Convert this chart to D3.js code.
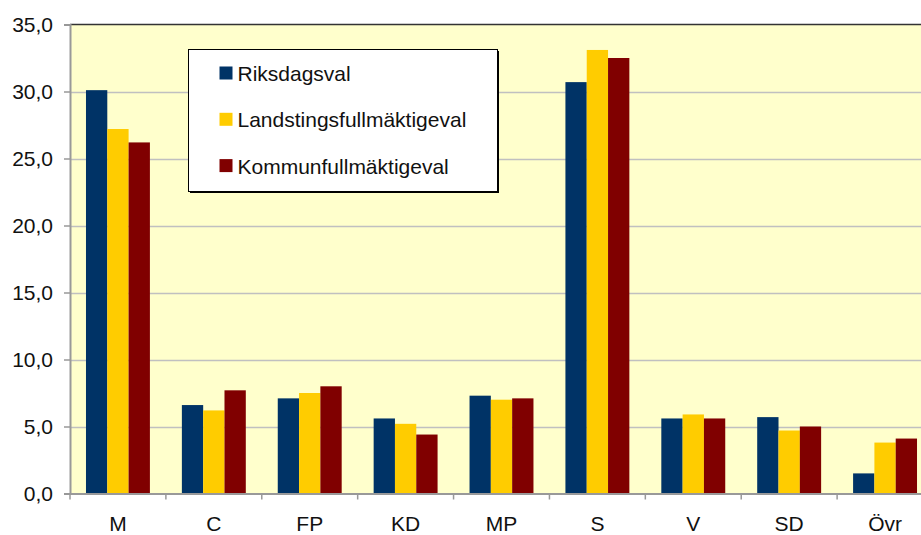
<!DOCTYPE html>
<html lang="sv">
<head>
  <meta charset="UTF-8">
  <title>Valresultat per parti</title>
  <script src="https://d3js.org/d3.v7.min.js"></script>
  <style>
    body {
      margin: 0;
      background: #fff;
      font-family: "Liberation Sans", Arial, sans-serif;
    }
    svg text {
      fill: #111;
    }
  </style>
</head>
<body>
  <svg width="921" height="535"></svg>

  <script>
    // chart values
    const parties = ["M", "C", "FP", "KD", "MP", "S", "V", "SD", "Övr"];
    const seriesNames = ["Riksdagsval", "Landstingsfullmäktigeval", "Kommunfullmäktigeval"];
    const riksdag = [30.1, 6.6, 7.1, 5.6, 7.3, 30.7, 5.6, 5.7, 1.5];
    const landsting = [27.2, 6.2, 7.5, 5.2, 7.0, 33.1, 5.9, 4.7, 3.8];
    const kommun = [26.2, 7.7, 8.0, 4.4, 7.1, 32.5, 5.6, 5.0, 4.1];
    const yTicks = [0, 5, 10, 15, 20, 25, 30, 35];
    const colors = ["#003366", "#ffcc00", "#800000"];

    const values = [riksdag, landsting, kommun];
    const table = parties.map((p, i) => ({
      party: p,
      vals: seriesNames.map((s, j) => ({ series: s, idx: j, value: values[j][i] }))
    }));

    const svg = d3.select("svg");
    const fmt = v => d3.format(".1f")(v).replace(".", ",");
    const fontSize = 21;

    const plot = { left: 70, right: 933, top: 24.5, bottom: 493.5 };

    const x = d3.scaleBand()
      .domain(parties)
      .range([plot.left, plot.right])
      .paddingInner(0)
      .paddingOuter(0);

    const bw = x.bandwidth();
    const xInner = d3.scaleBand()
      .domain(d3.range(seriesNames.length))
      .range([bw / 6, bw * 5 / 6]);

    const y = d3.scaleLinear()
      .domain([0, 35])
      .range([plot.bottom, plot.top]);

    // plot background
    svg.append("rect")
      .attr("x", plot.left)
      .attr("y", plot.top)
      .attr("width", plot.right - plot.left)
      .attr("height", plot.bottom - plot.top)
      .attr("fill", "#ffffcc");

    // gridlines
    svg.append("g")
      .selectAll("line")
      .data(yTicks.filter(t => t > 0 && t < 35))
      .join("line")
      .attr("x1", plot.left)
      .attr("x2", plot.right)
      .attr("y1", d => Math.round(y(d)) + 0.5)
      .attr("y2", d => Math.round(y(d)) + 0.5)
      .attr("stroke", "#c0c0c0")
      .attr("stroke-width", 1.5);

    // top border
    svg.append("line")
      .attr("x1", plot.left)
      .attr("x2", plot.right)
      .attr("y1", plot.top)
      .attr("y2", plot.top)
      .attr("stroke", "#333")
      .attr("stroke-width", 1.5);

    // bars
    const groups = svg.append("g")
      .selectAll("g")
      .data(table)
      .join("g")
      .attr("transform", d => `translate(${x(d.party)},0)`);

    groups.selectAll("rect")
      .data(d => d.vals)
      .join("rect")
      .attr("x", d => xInner(d.idx))
      .attr("width", xInner.bandwidth())
      .attr("y", d => y(d.value))
      .attr("height", d => y(0) - y(d.value))
      .attr("fill", d => colors[d.idx]);

    // y axis
    const yAxis = d3.axisLeft(y)
      .tickValues(yTicks)
      .tickFormat(fmt)
      .tickSize(6)
      .tickPadding(11);

    const gy = svg.append("g")
      .attr("transform", `translate(${plot.left},0)`)
      .call(yAxis);
    gy.select(".domain").attr("stroke", "#999").attr("stroke-width", 2);
    gy.selectAll(".tick line").attr("stroke", "#999").attr("stroke-width", 1.5);
    gy.selectAll(".tick text")
      .attr("font-size", fontSize)
      .attr("font-family", "Liberation Sans, Arial, sans-serif")
      .attr("fill", "#222");

    // x axis
    const xAxis = d3.axisBottom(x)
      .tickSize(0)
      .tickPadding(23);

    const gx = svg.append("g")
      .attr("transform", `translate(0,${plot.bottom})`)
      .call(xAxis);
    gx.select(".domain").attr("stroke", "#999").attr("stroke-width", 2);
    gx.selectAll(".tick text")
      .attr("font-size", fontSize)
      .attr("font-family", "Liberation Sans, Arial, sans-serif")
      .attr("fill", "#222");

    // category separators on x axis
    gx.append("g")
      .selectAll("line")
      .data(parties)
      .join("line")
      .attr("x1", d => x(d))
      .attr("x2", d => x(d))
      .attr("y1", 0)
      .attr("y2", 6)
      .attr("stroke", "#999")
      .attr("stroke-width", 1.5);

    // legend
    const legend = svg.append("g").attr("transform", "translate(188.5,49.5)");
    legend.append("rect")
      .attr("x", 1.5)
      .attr("y", 1.5)
      .attr("width", 309)
      .attr("height", 142)
      .attr("fill", "#000");
    legend.append("rect")
      .attr("width", 309)
      .attr("height", 142)
      .attr("fill", "#fff")
      .attr("stroke", "#000")
      .attr("stroke-width", 1);

    const items = legend.selectAll("g.item")
      .data(seriesNames)
      .join("g")
      .attr("class", "item")
      .attr("transform", (d, i) => `translate(31,${24 + i * 46.3})`);

    items.append("rect")
      .attr("x", 0)
      .attr("y", -7)
      .attr("width", 13)
      .attr("height", 13)
      .attr("fill", (d, i) => colors[i]);

    items.append("text")
      .attr("x", 18)
      .attr("y", 7.5)
      .attr("font-size", fontSize)
      .text(d => d);
  </script>
</body>
</html>
